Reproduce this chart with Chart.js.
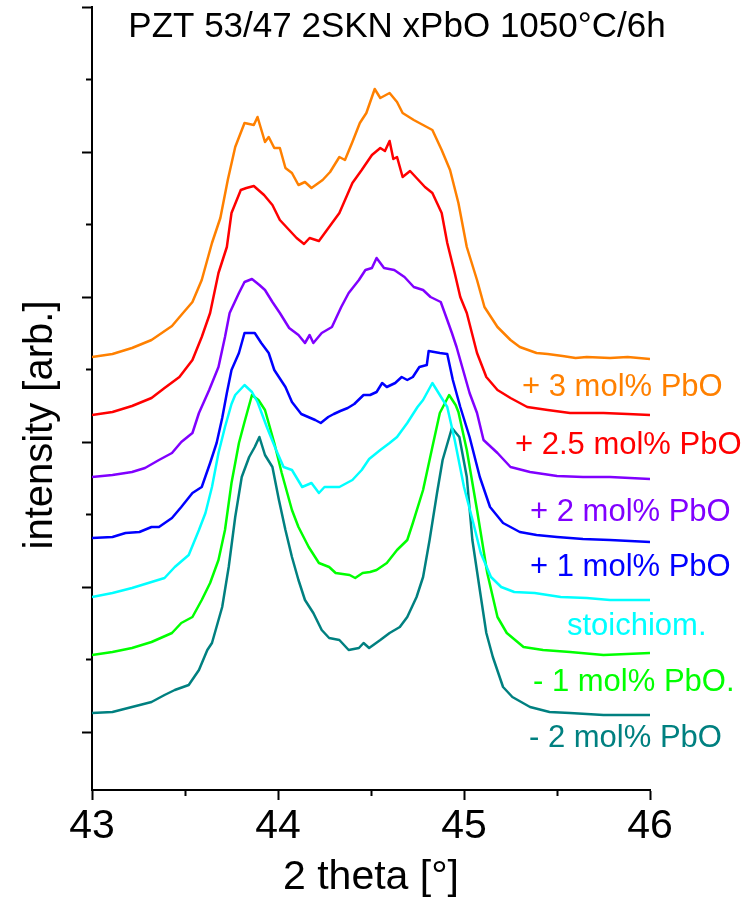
<!DOCTYPE html>
<html lang="en">

<head>
    <meta charset="UTF-8">
    <title>PZT 53/47 2SKN xPbO</title>
    <script src="https://cdn.jsdelivr.net/npm/chart.js"></script>
    <style>
        body { margin: 0; background: #fff; }
    </style>
</head>

<body>
    <canvas id="xrdChart" width="745" height="900"></canvas>
    <script>
        // 2 theta [deg] and intensity [arb.], one pair of arrays per sample
        const theta3 = [43.00, 43.11, 43.215, 43.32, 43.43, 43.48, 43.54, 43.59, 43.645, 43.69, 43.73, 43.77, 43.82, 43.87, 43.89, 43.93, 43.95, 43.98, 44.01, 44.04, 44.075, 44.11, 44.145, 44.18, 44.24, 44.28, 44.33, 44.36, 44.40, 44.44, 44.475, 44.505, 44.52, 44.55, 44.60, 44.64, 44.67, 44.73, 44.78, 44.83, 44.88, 44.925, 44.97, 45.015, 45.07, 45.11, 45.18, 45.25, 45.30, 45.39, 45.45, 45.53, 45.60, 45.66, 45.785, 45.88, 46.00];
        const int3 = [4330, 4360, 4420, 4500, 4640, 4750, 4880, 5100, 5470, 5720, 6100, 6430, 6670, 6650, 6730, 6480, 6530, 6420, 6420, 6220, 6170, 6050, 6080, 6020, 6100, 6180, 6330, 6300, 6480, 6670, 6770, 6930, 7010, 6920, 6970, 6880, 6770, 6700, 6650, 6600, 6400, 6200, 5870, 5430, 5100, 4830, 4630, 4500, 4430, 4370, 4360, 4340, 4320, 4330, 4320, 4330, 4310];

        const theta25 = [43.00, 43.11, 43.215, 43.32, 43.39, 43.47, 43.54, 43.59, 43.635, 43.68, 43.725, 43.75, 43.80, 43.83, 43.87, 43.925, 43.97, 44.01, 44.06, 44.10, 44.14, 44.17, 44.22, 44.275, 44.33, 44.40, 44.45, 44.505, 44.55, 44.575, 44.60, 44.62, 44.64, 44.67, 44.71, 44.745, 44.79, 44.83, 44.855, 44.88, 44.91, 44.95, 44.98, 45.015, 45.07, 45.12, 45.18, 45.25, 45.34, 45.45, 45.57, 45.75, 45.88, 46.00];
        const int25 = [3750, 3780, 3840, 3920, 4020, 4130, 4300, 4530, 4770, 5170, 5430, 5770, 6000, 6020, 6040, 5950, 5850, 5700, 5600, 5520, 5460, 5520, 5490, 5630, 5770, 6070, 6200, 6350, 6420, 6390, 6490, 6310, 6330, 6130, 6190, 6120, 6030, 5970, 5870, 5770, 5470, 5170, 4930, 4770, 4370, 4130, 4000, 3920, 3830, 3800, 3770, 3770, 3760, 3750];

        const theta2 = [43.00, 43.11, 43.215, 43.285, 43.36, 43.43, 43.48, 43.54, 43.575, 43.63, 43.68, 43.715, 43.74, 43.79, 43.82, 43.86, 43.90, 43.93, 43.97, 44.01, 44.06, 44.11, 44.145, 44.17, 44.19, 44.235, 44.29, 44.34, 44.38, 44.435, 44.47, 44.505, 44.53, 44.57, 44.625, 44.68, 44.73, 44.78, 44.82, 44.875, 44.91, 44.935, 44.96, 44.995, 45.03, 45.07, 45.105, 45.18, 45.25, 45.355, 45.50, 45.64, 45.785, 46.00];
        const int2 = [3130, 3150, 3180, 3220, 3300, 3370, 3480, 3570, 3770, 4000, 4230, 4530, 4770, 4970, 5080, 5110, 5050, 5000, 4880, 4770, 4620, 4550, 4470, 4550, 4470, 4570, 4630, 4830, 4970, 5100, 5200, 5220, 5320, 5220, 5200, 5130, 5030, 5000, 4930, 4880, 4700, 4570, 4430, 4200, 3970, 3770, 3500, 3370, 3230, 3180, 3140, 3130, 3130, 3110];

        const theta1 = [43.00, 43.11, 43.18, 43.255, 43.32, 43.36, 43.43, 43.48, 43.54, 43.59, 43.635, 43.67, 43.70, 43.725, 43.75, 43.79, 43.82, 43.875, 43.91, 43.95, 43.98, 44.04, 44.075, 44.125, 44.20, 44.23, 44.27, 44.30, 44.335, 44.375, 44.41, 44.46, 44.495, 44.53, 44.56, 44.585, 44.63, 44.665, 44.695, 44.725, 44.76, 44.80, 44.81, 44.87, 44.91, 44.94, 44.98, 45.03, 45.085, 45.14, 45.21, 45.30, 45.39, 45.50, 45.64, 45.785, 46.00];
        const int1 = [2520, 2530, 2570, 2580, 2630, 2630, 2720, 2830, 2970, 3030, 3270, 3470, 3720, 3970, 4200, 4370, 4570, 4570, 4470, 4370, 4200, 4030, 3880, 3760, 3700, 3670, 3730, 3760, 3790, 3820, 3860, 3950, 3950, 3980, 4070, 4030, 4070, 4130, 4100, 4130, 4230, 4250, 4390, 4370, 4360, 4100, 3830, 3530, 3130, 2830, 2670, 2580, 2550, 2530, 2510, 2500, 2480];

        const theta0 = [43.00, 43.11, 43.215, 43.32, 43.39, 43.445, 43.52, 43.575, 43.61, 43.645, 43.68, 43.715, 43.75, 43.77, 43.82, 43.86, 43.89, 43.94, 43.99, 44.03, 44.075, 44.13, 44.18, 44.22, 44.25, 44.33, 44.40, 44.45, 44.49, 44.55, 44.60, 44.64, 44.695, 44.75, 44.78, 44.83, 44.87, 44.91, 44.95, 45.00, 45.05, 45.09, 45.145, 45.20, 45.27, 45.38, 45.52, 45.66, 45.785, 46.00];
        const int0 = [1930, 1970, 2020, 2080, 2120, 2230, 2350, 2600, 2770, 3030, 3370, 3630, 3860, 3950, 4050, 3980, 3880, 3630, 3400, 3230, 3200, 3030, 3070, 2970, 3030, 3030, 3100, 3200, 3310, 3400, 3470, 3530, 3670, 3830, 3900, 4070, 3950, 3830, 3500, 3030, 2670, 2370, 2130, 2030, 1980, 1970, 1930, 1920, 1900, 1900];

        const thetaM1 = [43.00, 43.11, 43.215, 43.32, 43.43, 43.48, 43.54, 43.59, 43.635, 43.68, 43.715, 43.75, 43.79, 43.82, 43.86, 43.895, 43.93, 43.98, 44.02, 44.075, 44.11, 44.165, 44.22, 44.275, 44.31, 44.385, 44.415, 44.455, 44.495, 44.53, 44.585, 44.64, 44.695, 44.725, 44.78, 44.83, 44.87, 44.92, 44.955, 44.97, 45.015, 45.07, 45.125, 45.18, 45.23, 45.32, 45.425, 45.57, 45.75, 46.00];
        const intM1 = [1350, 1380, 1420, 1480, 1570, 1670, 1730, 1900, 2070, 2300, 2600, 3070, 3470, 3680, 3950, 3900, 3800, 3470, 3170, 2800, 2630, 2430, 2270, 2230, 2170, 2150, 2120, 2170, 2180, 2200, 2270, 2400, 2500, 2670, 3000, 3430, 3770, 3950, 3850, 3780, 3400, 2800, 2170, 1730, 1570, 1430, 1400, 1380, 1350, 1370];

        const thetaM2 = [43.00, 43.11, 43.215, 43.32, 43.39, 43.445, 43.52, 43.575, 43.62, 43.645, 43.70, 43.735, 43.77, 43.805, 43.845, 43.875, 43.90, 43.93, 43.97, 44.005, 44.04, 44.075, 44.11, 44.145, 44.19, 44.235, 44.275, 44.33, 44.38, 44.435, 44.46, 44.49, 44.55, 44.60, 44.655, 44.695, 44.745, 44.78, 44.815, 44.855, 44.885, 44.935, 44.975, 45.015, 45.045, 45.085, 45.12, 45.155, 45.21, 45.26, 45.355, 45.46, 45.57, 45.75, 46.00];
        const intM2 = [770, 780, 830, 880, 950, 1000, 1050, 1200, 1400, 1470, 1830, 2230, 2730, 3130, 3330, 3430, 3530, 3350, 3230, 2900, 2600, 2330, 2100, 1900, 1770, 1600, 1520, 1500, 1400, 1420, 1470, 1420, 1500, 1570, 1630, 1730, 1930, 2130, 2500, 2970, 3300, 3620, 3530, 3130, 2500, 2000, 1570, 1330, 1030, 930, 830, 780, 770, 750, 750];

        const seriesNames = ['+ 3 mol% PbO', '+ 2.5 mol% PbO', '+ 2 mol% PbO', '+ 1 mol% PbO', 'stoichiom.', '- 1 mol% PbO.', '- 2 mol% PbO'];
        const seriesColors = ['#ff8000', '#ff0000', '#8000ff', '#0000ff', '#00ffff', '#00ff00', '#008080'];
        const seriesTheta = [theta3, theta25, theta2, theta1, theta0, thetaM1, thetaM2];
        const seriesInt = [int3, int25, int2, int1, int0, intM1, intM2];

        const xMajorTicks = [43, 44, 45, 46];
        const xMinorTicks = [43.5, 44.5, 45.5];
        const yMajorTicks = [580, 2030, 3480, 4930, 6380, 7830];
        const yMinorTicks = [1305, 2755, 4205, 5655, 7105];

        const FONT = '"Liberation Sans", Arial, sans-serif';

        const datasets = seriesNames.map((name, i) => ({
            label: name,
            data: seriesTheta[i].map((t, j) => ({ x: t, y: seriesInt[i][j] })),
            borderColor: seriesColors[i],
            borderWidth: 2.5,
            borderJoinStyle: 'round',
            pointRadius: 0,
            fill: false,
            tension: 0
        }));

        const setTicks = (vals) => (axis) => { axis.ticks = vals.map(v => ({ value: v })); };

        // titles and curve labels
        const textPlugin = {
            id: 'texts',
            afterDraw(chart) {
                const ctx = chart.ctx;
                const area = chart.chartArea;
                ctx.save();
                ctx.fillStyle = '#000';
                ctx.textAlign = 'center';
                ctx.textBaseline = 'alphabetic';
                ctx.font = '35px ' + FONT;
                ctx.fillText('PZT 53/47 2SKN xPbO 1050°C/6h', 397, 37);
                ctx.font = '41px ' + FONT;
                ctx.fillText('2 theta [°]', (area.left + area.right) / 2, 889);
                ctx.save();
                ctx.translate(41, 425);
                ctx.rotate(-Math.PI / 2);
                ctx.textBaseline = 'middle';
                ctx.font = '40px ' + FONT;
                ctx.fillText('intensity [arb.]', 0, 0);
                ctx.restore();

                const labelPos = [[522, 387], [515, 445], [530, 512], [530, 567], [567, 626], [533, 682], [529, 738]];
                ctx.font = '31px ' + FONT;
                ctx.textAlign = 'left';
                ctx.textBaseline = 'middle';
                seriesNames.forEach((name, i) => {
                    ctx.fillStyle = seriesColors[i];
                    ctx.fillText(name, labelPos[i][0], labelPos[i][1]);
                });
                ctx.restore();
            }
        };

        const ctx = document.getElementById('xrdChart').getContext('2d');
        new Chart(ctx, {
            type: 'line',
            data: { datasets: datasets },
            plugins: [textPlugin],
            options: {
                responsive: false,
                animation: false,
                devicePixelRatio: 1,
                layout: { padding: { left: 92, right: 95, top: 7, bottom: 0 } },
                plugins: { legend: { display: false }, tooltip: { enabled: false } },
                scales: {
                    x: {
                        type: 'linear', min: 43, max: 46, weight: 1,
                        afterBuildTicks: setTicks(xMajorTicks),
                        afterFit: (s) => { s.height = 110; },
                        border: { display: true, color: '#000', width: 2 },
                        grid: { drawOnChartArea: false, tickLength: 10, tickWidth: 2, tickColor: '#000' },
                        ticks: { color: '#000', padding: 2, font: { family: FONT, size: 41 }, maxRotation: 0, autoSkip: false }
                    },
                    xMinor: {
                        type: 'linear', position: 'bottom', min: 43, max: 46, weight: 0,
                        afterBuildTicks: setTicks(xMinorTicks),
                        afterFit: (s) => { s.height = 0; },
                        border: { display: false },
                        grid: { drawOnChartArea: false, tickLength: 6, tickWidth: 2, tickColor: '#000' },
                        ticks: { display: false, autoSkip: false }
                    },
                    y: {
                        type: 'linear', min: 0, max: 7830,
                        afterBuildTicks: setTicks(yMajorTicks),
                        afterFit: (s) => { s.width = 0; },
                        border: { display: true, color: '#000', width: 2 },
                        grid: { drawOnChartArea: false, tickLength: 10, tickWidth: 2, tickColor: '#000' },
                        ticks: { display: false, autoSkip: false }
                    },
                    yMinor: {
                        type: 'linear', position: 'left', min: 0, max: 7830,
                        afterBuildTicks: setTicks(yMinorTicks),
                        afterFit: (s) => { s.width = 0; },
                        border: { display: false },
                        grid: { drawOnChartArea: false, tickLength: 6, tickWidth: 2, tickColor: '#000' },
                        ticks: { display: false, autoSkip: false }
                    }
                }
            }
        });
    </script>
</body>

</html>
